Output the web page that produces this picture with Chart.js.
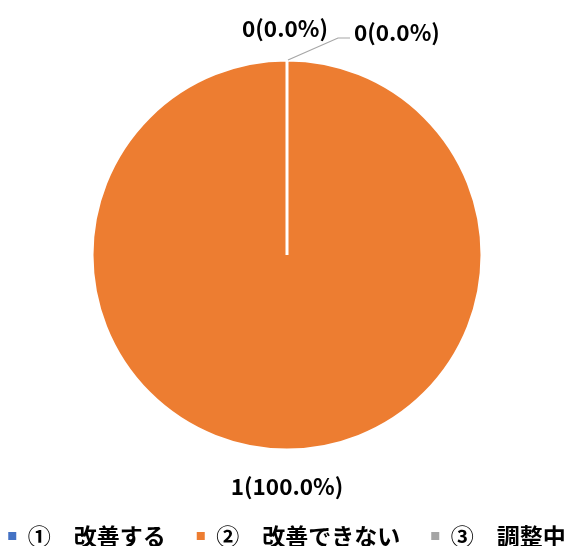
<!DOCTYPE html>
<html>
<head>
<meta charset="utf-8">
<script src="https://cdn.jsdelivr.net/npm/chart.js@4.4.1/dist/chart.umd.min.js"></script>
<style>
  html, body { margin: 0; padding: 0; background: #fff; }
  #wrap { width: 574px; height: 546px; }
</style>
</head>
<body>
<div id="wrap"><canvas id="myChart"></canvas></div>
<script>
// categories and values
const categories = ['①　改善する', '②　改善できない', '③　調整中'];
const counts = [0, 1, 0];
const sliceColors = ['#4472C4', '#ED7D31', '#A5A5A5'];

const FONT = '"Noto Sans CJK JP", "Noto Sans", sans-serif';

// labels like "1(100.0%)" next to each slice
const sliceLabels = {
  id: 'sliceLabels',
  afterDatasetsDraw(chart) {
    const ctx = chart.ctx;
    const meta = chart.getDatasetMeta(0);
    const total = counts.reduce((a, b) => a + b, 0);
    ctx.save();
    ctx.font = 'bold 22.5px ' + FONT;
    ctx.fillStyle = '#000';
    ctx.textBaseline = 'middle';
    meta.data.forEach((arc, i) => {
      const {x, y, startAngle, endAngle, outerRadius} = arc.getProps(['x', 'y', 'startAngle', 'endAngle', 'outerRadius'], true);
      const mid = (startAngle + endAngle) / 2;
      const txt = counts[i] + '(' + (counts[i] / total * 100).toFixed(1) + '%)';
      const ex = x + Math.cos(mid) * outerRadius;
      const ey = y + Math.sin(mid) * outerRadius;
      if (counts[i] > 0) {
        ctx.textAlign = 'center';
        ctx.fillText(txt, x + Math.cos(mid) * (outerRadius + 36), y + Math.sin(mid) * (outerRadius + 36));
      } else if (i === 0) {
        ctx.textAlign = 'center';
        ctx.fillText(txt, ex - 2, ey - 32);
      } else {
        // leader line to the label on the right
        ctx.strokeStyle = '#A6A6A6';
        ctx.lineWidth = 1.2;
        ctx.beginPath();
        ctx.moveTo(ex + 1, ey);
        ctx.lineTo(ex + 51, ey - 22);
        ctx.lineTo(ex + 63, ey - 22);
        ctx.stroke();
        ctx.textAlign = 'left';
        ctx.fillText(txt, ex + 67, ey - 28);
      }
    });
    ctx.restore();
  }
};

new Chart(document.getElementById('myChart'), {
  type: 'pie',
  data: {
    labels: categories,
    datasets: [{
      data: counts,
      backgroundColor: sliceColors,
      borderColor: '#ffffff',
      borderWidth: 3,
      radius: 195
    }]
  },
  options: {
    responsive: true,
    maintainAspectRatio: false,
    animation: false,
    // negative side padding so the legend fits on one row
    layout: { padding: { top: 16.5, bottom: -11.5, left: -30, right: -30 } },
    plugins: {
      tooltip: { enabled: false },
      legend: {
        position: 'bottom',
        labels: {
          color: '#000',
          font: { family: FONT, size: 23, weight: 'bold' },
          boxWidth: 8,
          boxHeight: 8,
          padding: 31,
          generateLabels(chart) {
            const items = Chart.overrides.pie.plugins.legend.labels.generateLabels(chart);
            items.forEach(it => { it.lineWidth = 0; });
            return items;
          }
        }
      }
    }
  },
  plugins: [sliceLabels]
});
</script>
</body>
</html>
